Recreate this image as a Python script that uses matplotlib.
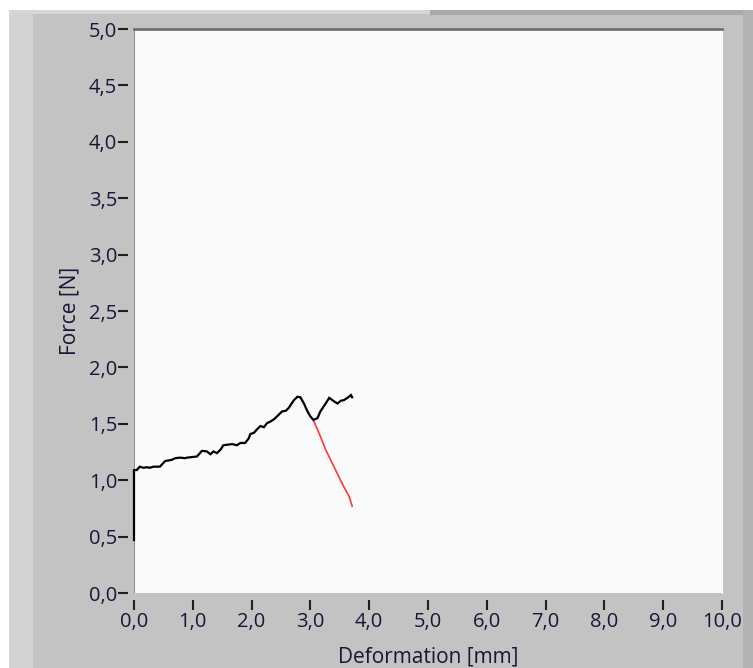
import matplotlib.pyplot as plt
from matplotlib.patches import Rectangle

# Force vs deformation readout (black trace) and the unloading part (red)
deform = [0.0, 0.0, 0.045, 0.10, 0.16, 0.22, 0.27, 0.33, 0.44, 0.53, 0.64, 0.70,
          0.785, 0.87, 0.90, 1.07, 1.155, 1.24, 1.30, 1.35, 1.41, 1.47, 1.52,
          1.67, 1.75, 1.81, 1.89, 1.95, 1.98, 2.04, 2.09, 2.15, 2.21, 2.26,
          2.32, 2.38, 2.43, 2.52, 2.58, 2.63, 2.72, 2.78, 2.83, 2.89, 2.95,
          3.00, 3.05, 3.12, 3.17, 3.26, 3.32, 3.40, 3.46, 3.52, 3.57, 3.63,
          3.69, 3.71]
force = [0.47, 1.09, 1.09, 1.12, 1.11, 1.115, 1.11, 1.12, 1.12, 1.17, 1.18, 1.195,
         1.20, 1.195, 1.20, 1.21, 1.26, 1.255, 1.23, 1.255, 1.24, 1.27, 1.31,
         1.32, 1.31, 1.33, 1.33, 1.37, 1.41, 1.42, 1.45, 1.48, 1.47, 1.505,
         1.52, 1.54, 1.565, 1.61, 1.615, 1.64, 1.71, 1.74, 1.735, 1.68, 1.61,
         1.565, 1.535, 1.55, 1.61, 1.68, 1.73, 1.70, 1.68, 1.705, 1.71, 1.73,
         1.755, 1.735]

red_deform = [3.05, 3.17, 3.26, 3.40, 3.54, 3.66, 3.71]
red_force = [1.535, 1.387, 1.27, 1.12, 0.97, 0.855, 0.77]

x_ticks = [0, 1, 2, 3, 4, 5, 6, 7, 8, 9, 10]
x_labels = ['0,0', '1,0', '2,0', '3,0', '4,0', '5,0', '6,0', '7,0', '8,0', '9,0', '10,0']
y_ticks = [0, 0.5, 1.0, 1.5, 2.0, 2.5, 3.0, 3.5, 4.0, 4.5, 5.0]
y_labels = ['0,0', '0,5', '1,0', '1,5', '2,0', '2,5', '3,0', '3,5', '4,0', '4,5', '5,0']

W, H = 753, 668
fig = plt.figure(figsize=(W / 100, H / 100), dpi=100)
fig.patch.set_facecolor('white')
plt.rcParams['font.family'] = ['Open Sans', 'DejaVu Sans']

# panel background pieces, in pixel coords
def px_rect(x0, y0, x1, y1, color):
    fig.patches.append(Rectangle((x0 / W, 1 - y1 / H), (x1 - x0) / W, (y1 - y0) / H,
                                 transform=fig.transFigure, facecolor=color,
                                 edgecolor='none', zorder=-10))

px_rect(9, 10, W, H, '#c3c3c3')
px_rect(9, 10, 33, H, '#d2d2d2')
px_rect(9, 10, 430, 14, '#d6d6d6')
px_rect(430, 10, W, 15, '#a9a9a9')
px_rect(743, 10, W, H, '#b2b2b2')

ax = fig.add_axes([134 / W, 1 - 593 / H, (722 - 134) / W, (593 - 29) / H])
ax.set_zorder(5)
ax.set_facecolor('#fafafa')

ax.plot(deform, force, color='black', lw=1.6, solid_joinstyle='miter',
        clip_on=False, zorder=4)
ax.plot(red_deform, red_force, color='#ff3838', lw=1.2, zorder=3)

ax.set_xlim(0, 10)
ax.set_ylim(0, 5)
ax.set_xticks(x_ticks)
ax.set_xticklabels(x_labels)
ax.set_yticks(y_ticks)
ax.set_yticklabels(y_labels)

text_color = '#16163a'
ax.tick_params(axis='both', direction='out', length=7, width=1.5,
               color='#202020', labelsize=14.5, labelcolor=text_color)
ax.tick_params(axis='x', pad=2)
ax.tick_params(axis='y', pad=1)

# LabVIEW style: scales sit a little away from the plot area
ax.spines['bottom'].set_position(('outward', 5))
ax.spines['bottom'].set_visible(False)
ax.spines['left'].set_position(('outward', 4))
ax.spines['left'].set_visible(False)
ax.spines['right'].set_color('white')
ax.spines['top'].set_color('#707070')
ax.spines['top'].set_linewidth(2)
ax.axvline(0, color='#8c8c8c', lw=1.4, zorder=2)

ax.set_xlabel('Deformation [mm]', fontsize=15, color=text_color, labelpad=10)
ax.set_ylabel('Force [N]', fontsize=15, color=text_color, labelpad=6)

fig.savefig('out.png', dpi=100)
